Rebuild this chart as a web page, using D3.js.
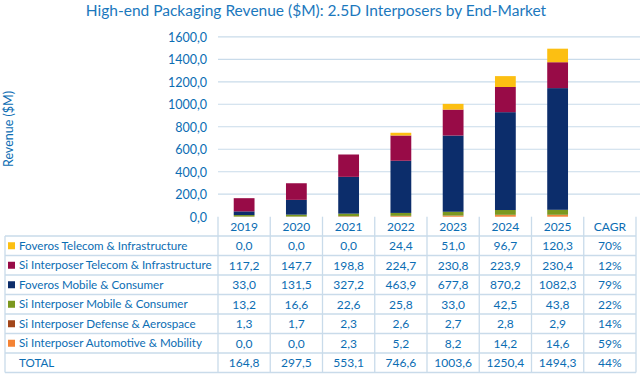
<!DOCTYPE html>
<html><head><meta charset="utf-8">
<script src="https://cdn.jsdelivr.net/npm/d3@7"></script>
<style>body{margin:0;background:#fff;} svg{display:block;}</style>
</head><body>
<svg id="c" width="640" height="376"></svg>
<script>
const years = ["2019","2020","2021","2022","2023","2024","2025"];
const seriesNames = ["Foveros Telecom & Infrastructure","Si Interposer Telecom & Infrastructure","Foveros Mobile & Consumer","Si Interposer Mobile & Consumer","Si Interposer Defense & Aerospace","Si Interposer Automotive & Mobility"];
const fovTelecom = [0.0,0.0,0.0,24.4,51.0,96.7,120.3];
const siTelecom = [117.2,147.7,198.8,224.7,230.8,223.9,230.4];
const fovMobile = [33.0,131.5,327.2,463.9,677.8,870.2,1082.3];
const siMobile = [13.2,16.6,22.6,25.8,33.0,42.5,43.8];
const siDefense = [1.3,1.7,2.3,2.6,2.7,2.8,2.9];
const siAuto = [0.0,0.0,2.3,5.2,8.2,14.2,14.6];
const totals = [164.8,297.5,553.1,746.6,1003.6,1250.4,1494.3];
const cagr = ["70%","12%","79%","22%","14%","59%"];
const cagrTotal = "44%";
const yTicks = [0,200,400,600,800,1000,1200,1400,1600];
const colors = ["#fcbf12","#980b47","#0c2d6b","#7b981f","#a2461a","#f48334"];

const seriesVals = [fovTelecom, siTelecom, fovMobile, siMobile, siDefense, siAuto];
const svg = d3.select("#c");
const font = "Lato, 'Open Sans', sans-serif";
const txtCol = "#0b6db3";
const lineCol = "#c9dbea";

const cols = years.concat(["CAGR"]);
const x = d3.scaleBand().domain(cols).range([218, 636]).paddingInner(0).paddingOuter(0);
const y = d3.scaleLinear().domain([0,1600]).range([216.7, 36.8]);

// title
svg.append("text").attr("x", 316).attr("y", 16).attr("text-anchor","middle")
  .attr("font-family", font).attr("font-size", 15.5).attr("fill", "#1b78bd")
  .text("High-end Packaging Revenue ($M): 2.5D Interposers by End-Market");

// y label
svg.append("text").attr("transform","translate(13,129) rotate(-90)").attr("text-anchor","middle")
  .attr("font-family", font).attr("font-size", 12.5).attr("fill", txtCol).text("Revenue ($M)");

// gridlines
const fmt = v => d3.format(".1f")(v).replace(".", ",");
svg.append("g").selectAll("line").data(yTicks.filter(d=>d>0)).join("line")
  .attr("x1", 218).attr("x2", 640).attr("y1", d=>y(d)).attr("y2", d=>y(d))
  .attr("stroke", lineCol).attr("stroke-width", 1.2);

const yAxis = d3.axisLeft(y).tickValues(yTicks).tickFormat(fmt).tickSize(0).tickPadding(0);
const ga = svg.append("g").attr("transform","translate(207,0)").call(yAxis);
ga.select(".domain").remove();
ga.selectAll("text").attr("font-family", font).attr("font-size", 12.5).attr("fill", txtCol).attr("dy","0.35em");

// stacked bars
const table = years.map((yr,i)=>{ const o={year:yr}; seriesNames.forEach((s,j)=>o[s]=seriesVals[j][i]); return o; });
const stackKeys = seriesNames.slice().reverse();
const stack = d3.stack().keys(stackKeys)(table);
const bw = 20.8;
svg.append("g").selectAll("g").data(stack).join("g")
  .attr("fill", d => colors[seriesNames.indexOf(d.key)])
  .selectAll("rect").data(d=>d).join("rect")
  .attr("x", d => x(d.data.year) + (x.bandwidth()-bw)/2)
  .attr("width", bw)
  .attr("y", d => y(d[1]))
  .attr("height", d => Math.max(0, y(d[0]) - y(d[1])));

// table
const tTop = 216.7, headerH = 19.3, rowH = 19.5;
const rows = seriesNames.concat(["TOTAL"]);
const nRows = rows.length;
const tg = svg.append("g");
const tBottom = tTop + headerH + rowH*nRows;
cols.forEach((c,i)=>{
  tg.append("line").attr("x1", x(c)).attr("x2", x(c)).attr("y1", tTop).attr("y2", tBottom)
    .attr("stroke", lineCol).attr("stroke-width", 1.3);
});
tg.append("line").attr("x1", 636).attr("x2", 636).attr("y1", tTop).attr("y2", tBottom).attr("stroke", lineCol).attr("stroke-width", 1.3);
tg.append("line").attr("x1", 5).attr("x2", 5).attr("y1", tTop+headerH).attr("y2", tBottom).attr("stroke", lineCol).attr("stroke-width", 1.3);
for (let r=0; r<=nRows; r++) {
  const yy = tTop + headerH + rowH*r;
  tg.append("line").attr("x1", 5).attr("x2", 636).attr("y1", yy).attr("y2", yy).attr("stroke", lineCol).attr("stroke-width", 1.3);
}
tg.selectAll("text.h").data(cols).join("text").attr("class","h")
  .attr("x", d => x(d) + x.bandwidth()/2).attr("y", tTop + headerH/2).attr("dy","0.36em")
  .attr("text-anchor","middle").attr("font-family", font).attr("font-size", 12).attr("fill", txtCol).text(d=>d);

rows.forEach((name, r) => {
  const cy = tTop + headerH + rowH*r + rowH/2;
  if (r < seriesNames.length) {
    tg.append("rect").attr("x", 8).attr("y", cy-3.5).attr("width", 7).attr("height", 7).attr("fill", colors[r]);
  }
  tg.append("text").attr("x", 19).attr("y", cy).attr("dy","0.36em").attr("font-family", font).attr("font-size", 11.6)
    .attr("fill", txtCol).text(name);
  const vals = r < seriesNames.length ? seriesVals[r] : totals;
  const cg = r < seriesNames.length ? cagr[r] : cagrTotal;
  const cells = vals.map(fmt).concat([cg]);
  cells.forEach((t,i)=>{
    tg.append("text").attr("x", x(cols[i]) + x.bandwidth()/2).attr("y", cy).attr("dy","0.36em")
      .attr("text-anchor","middle").attr("font-family", font).attr("font-size", 12).attr("fill", txtCol).text(t);
  });
});
</script>
</body></html>
